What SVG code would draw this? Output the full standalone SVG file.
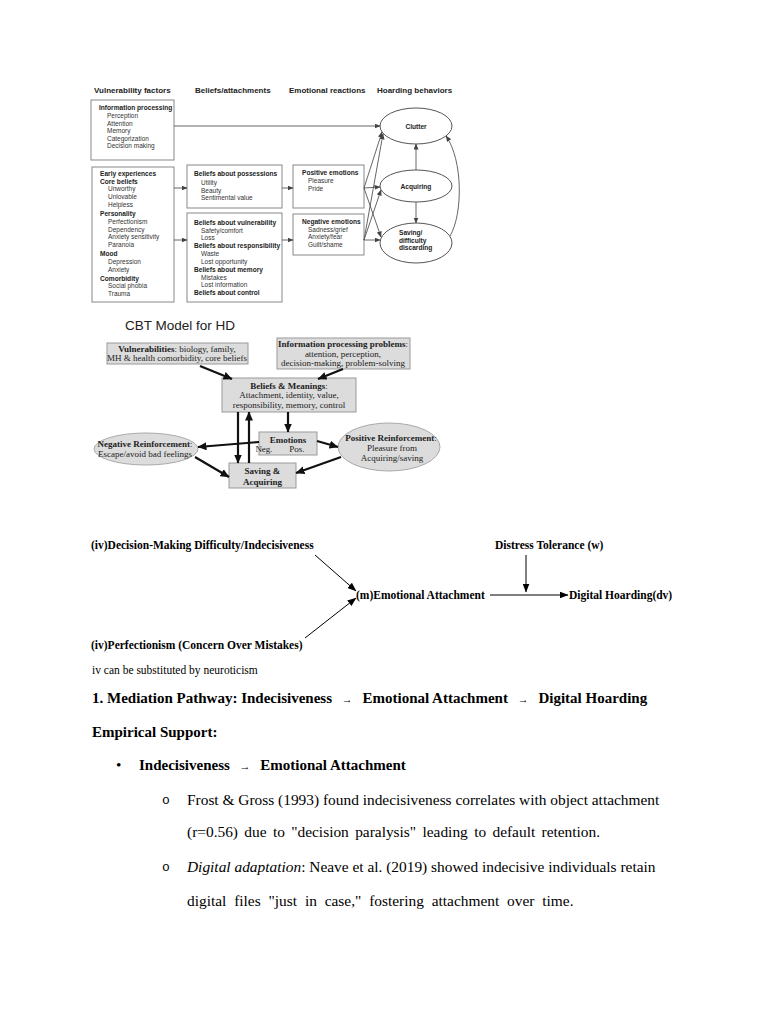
<svg xmlns="http://www.w3.org/2000/svg" width="768" height="1024" viewBox="0 0 768 1024">
<defs>
<marker id="ag" markerWidth="6" markerHeight="5" refX="5.5" refY="2.5" orient="auto" markerUnits="userSpaceOnUse"><path d="M0,0 L6,2.5 L0,5 z" fill="#444"/></marker>
<marker id="ab" markerWidth="9" markerHeight="8" refX="8.5" refY="4" orient="auto" markerUnits="userSpaceOnUse"><path d="M0,0 L9,4 L0,8 z" fill="#111"/></marker>
<marker id="at" markerWidth="9" markerHeight="7" refX="8.5" refY="3.5" orient="auto" markerUnits="userSpaceOnUse"><path d="M0,0 L9,3.5 L0,7 z" fill="#000"/></marker>
</defs>
<style>
.hd{font-family:"Liberation Sans",Arial,sans-serif;font-weight:bold;font-size:8px;fill:#222}
.bt{font-family:"Liberation Sans",Arial,sans-serif;font-weight:bold;font-size:6.6px;fill:#222}
.it{font-family:"Liberation Sans",Arial,sans-serif;font-size:6.5px;fill:#333}
.bx{fill:#fff;stroke:#888;stroke-width:1}
.el{fill:#fff;stroke:#555;stroke-width:1}
.gl{fill:none;stroke:#555;stroke-width:0.9}
.cb{fill:#dcdcdc;stroke:#999;stroke-width:1}
.ce{fill:#dcdcdc;stroke:#aaa;stroke-width:1}
.st{font-family:"Liberation Serif","Times New Roman",serif;font-size:9px;fill:#222;text-anchor:middle}
.stb{font-weight:bold}
.bl{fill:none;stroke:#111;stroke-width:2.2}
.dt{font-family:"Liberation Serif","Times New Roman",serif;font-weight:bold;font-size:11.5px;fill:#000}
.dl{fill:none;stroke:#000;stroke-width:1}
.ph{font-family:"Liberation Serif","Times New Roman",serif;font-weight:bold;font-size:15px;fill:#000}
.pt{font-family:"Liberation Serif","Times New Roman",serif;font-size:15.4px;fill:#000}
</style>
<rect width="768" height="1024" fill="#fff"/>

<!-- Top diagram -->
<g id="headers">
<text class="hd" x="94" y="93">Vulnerability factors</text>
<text class="hd" x="195" y="93">Beliefs/attachments</text>
<text class="hd" x="289" y="93">Emotional reactions</text>
<text class="hd" x="377" y="93">Hoarding behaviors</text>
</g>
<g id="info-processing">
<rect class="bx" x="91" y="100" width="83" height="60"/>
<text class="bt" x="99" y="110">Information processing</text>
<text class="it" x="107" y="118">Perception</text>
<text class="it" x="107" y="125.5">Attention</text>
<text class="it" x="107" y="133">Memory</text>
<text class="it" x="107" y="140.5">Categorization</text>
<text class="it" x="107" y="148">Decision making</text>
</g>
<g id="early-experiences">
<rect class="bx" x="92" y="167" width="82" height="135"/>
<text class="bt" x="100" y="176">Early experiences</text>
<text class="bt" x="100" y="183.5">Core beliefs</text>
<text class="it" x="108" y="191">Unworthy</text>
<text class="it" x="108" y="199">Unlovable</text>
<text class="it" x="108" y="207">Helpless</text>
<text class="bt" x="100" y="216">Personality</text>
<text class="it" x="108" y="224">Perfectionism</text>
<text class="it" x="108" y="231.5">Dependency</text>
<text class="it" x="108" y="239">Anxiety sensitivity</text>
<text class="it" x="108" y="246.5">Paranoia</text>
<text class="bt" x="100" y="256">Mood</text>
<text class="it" x="108" y="264">Depression</text>
<text class="it" x="108" y="271.5">Anxiety</text>
<text class="bt" x="100" y="280.5">Comorbidity</text>
<text class="it" x="108" y="288">Social phobia</text>
<text class="it" x="108" y="295.5">Trauma</text>
</g>
<g id="beliefs-possessions">
<rect class="bx" x="187" y="165" width="95" height="43"/>
<text class="bt" x="194" y="176">Beliefs about possessions</text>
<text class="it" x="201" y="185">Utility</text>
<text class="it" x="201" y="192.5">Beauty</text>
<text class="it" x="201" y="200">Sentimental value</text>
</g>
<g id="beliefs-vulnerability">
<rect class="bx" x="187" y="213" width="95" height="89"/>
<text class="bt" x="194" y="225">Beliefs about vulnerability</text>
<text class="it" x="201" y="232.5">Safety/comfort</text>
<text class="it" x="201" y="240">Loss</text>
<text class="bt" x="194" y="248">Beliefs about responsibility</text>
<text class="it" x="201" y="255.5">Waste</text>
<text class="it" x="201" y="263.5">Lost opportunity</text>
<text class="bt" x="194" y="271.5">Beliefs about memory</text>
<text class="it" x="201" y="279.5">Mistakes</text>
<text class="it" x="201" y="287">Lost information</text>
<text class="bt" x="194" y="295">Beliefs about control</text>
</g>
<g id="positive-emotions">
<rect class="bx" x="293" y="165" width="71" height="43"/>
<text class="bt" x="302" y="175">Positive emotions</text>
<text class="it" x="308" y="183">Pleasure</text>
<text class="it" x="308" y="190.5">Pride</text>
</g>
<g id="negative-emotions">
<rect class="bx" x="293" y="214" width="71" height="41"/>
<text class="bt" x="302" y="224">Negative emotions</text>
<text class="it" x="308" y="231.5">Sadness/grief</text>
<text class="it" x="308" y="239">Anxiety/fear</text>
<text class="it" x="308" y="246.5">Guilt/shame</text>
</g>
<g id="clutter">
<ellipse class="el" cx="416" cy="126" rx="36" ry="18"/>
<text class="bt" x="416" y="128.5" text-anchor="middle">Clutter</text>
</g>
<g id="acquiring">
<ellipse class="el" cx="416" cy="186" rx="36" ry="16"/>
<text class="bt" x="416" y="188.5" text-anchor="middle">Acquiring</text>
</g>
<g id="saving">
<ellipse class="el" cx="416" cy="243" rx="36" ry="20"/>
<text class="bt" x="399" y="235">Saving/</text>
<text class="bt" x="399" y="242.5">difficulty</text>
<text class="bt" x="399" y="250">discarding</text>
</g>
<g id="top-connectors">
<line class="gl" x1="174" y1="126" x2="380" y2="126" marker-end="url(#ag)"/>
<line class="gl" x1="174" y1="188" x2="187" y2="188" marker-end="url(#ag)"/>
<line class="gl" x1="174" y1="240" x2="187" y2="240" marker-end="url(#ag)"/>
<line class="gl" x1="282" y1="188" x2="293" y2="188" marker-end="url(#ag)"/>
<line class="gl" x1="282" y1="240" x2="293" y2="240" marker-end="url(#ag)"/>
<line class="gl" x1="364" y1="188" x2="382" y2="132" marker-end="url(#ag)"/>
<line class="gl" x1="364" y1="188" x2="380" y2="187" marker-end="url(#ag)"/>
<line class="gl" x1="364" y1="188" x2="381" y2="237" marker-end="url(#ag)"/>
<line class="gl" x1="364" y1="240" x2="383" y2="134" marker-end="url(#ag)"/>
<line class="gl" x1="364" y1="240" x2="381" y2="190" marker-end="url(#ag)"/>
<line class="gl" x1="364" y1="240" x2="380" y2="240" marker-end="url(#ag)"/>
<line class="gl" x1="416" y1="170" x2="416" y2="144" marker-end="url(#ag)"/>
<line class="gl" x1="416" y1="202" x2="416" y2="223" marker-end="url(#ag)"/>
<path class="gl" d="M450,236 C463,214 463,160 446,136" marker-end="url(#ag)"/>
</g>

<!-- CBT Model -->
<text x="125" y="330" font-family="'Liberation Sans',Arial,sans-serif" font-size="13.5" fill="#222">CBT Model for HD</text>
<g id="vulnerabilities">
<rect class="cb" x="107" y="343" width="141" height="21"/>
<text class="st" x="177" y="351.5"><tspan class="stb">Vulnerabilities</tspan>: biology, family,</text>
<text class="st" x="177" y="361">MH &amp; health comorbidity, core beliefs</text>
</g>
<g id="info-problems">
<rect class="cb" x="277" y="338" width="133" height="31"/>
<text class="st" x="343" y="347"><tspan class="stb">Information processing problems</tspan>:</text>
<text class="st" x="343" y="356.5">attention, perception,</text>
<text class="st" x="343" y="366">decision-making, problem-solving</text>
</g>
<g id="beliefs-meanings">
<rect class="cb" x="222" y="378" width="134" height="34"/>
<text class="st" x="289" y="388.5"><tspan class="stb">Beliefs &amp; Meanings</tspan>:</text>
<text class="st" x="289" y="398">Attachment, identity, value,</text>
<text class="st" x="289" y="407.5">responsibility, memory, control</text>
</g>
<g id="emotions">
<rect class="cb" x="259" y="432" width="58" height="23"/>
<text class="st stb" x="288" y="443">Emotions</text>
<text class="st" x="264" y="452" text-anchor="start">Neg.</text>
<text class="st" x="297" y="452" text-anchor="start">Pos.</text>
</g>
<g id="saving-acquiring">
<rect class="cb" x="229" y="463" width="67" height="25"/>
<text class="st stb" x="262.5" y="474">Saving &amp;</text>
<text class="st stb" x="262.5" y="484.5">Acquiring</text>
</g>
<g id="negative-reinforcement">
<ellipse class="ce" cx="146" cy="449" rx="52" ry="16"/>
<text class="st" x="145" y="447"><tspan class="stb">Negative Reinforcement</tspan>:</text>
<text class="st" x="145" y="457">Escape/avoid bad feelings</text>
</g>
<g id="positive-reinforcement">
<ellipse class="ce" cx="389" cy="447" rx="51" ry="24"/>
<text class="st" x="391" y="441"><tspan class="stb">Positive Reinforcement</tspan>:</text>
<text class="st" x="392" y="451">Pleasure from</text>
<text class="st" x="392" y="461">Acquiring/saving</text>
</g>
<g id="cbt-connectors">
<line class="bl" x1="200" y1="366" x2="232" y2="379" marker-end="url(#ab)"/>
<line class="bl" x1="343" y1="369" x2="318" y2="379" marker-end="url(#ab)"/>
<line class="bl" x1="288" y1="412" x2="288" y2="432" marker-end="url(#ab)"/>
<line class="bl" x1="238" y1="412" x2="238" y2="463" marker-end="url(#ab)"/>
<line class="bl" x1="249" y1="463" x2="249" y2="412" marker-end="url(#ab)"/>
<line class="bl" x1="259" y1="442" x2="198" y2="447" marker-end="url(#ab)"/>
<line class="bl" x1="195" y1="457" x2="229" y2="477" marker-end="url(#ab)"/>
<line class="bl" x1="317" y1="441" x2="338" y2="447" marker-end="url(#ab)"/>
<line class="bl" x1="341" y1="457" x2="296" y2="473" marker-end="url(#ab)"/>
</g>

<!-- Moderated mediation diagram -->
<g id="iv-indecisiveness"><text class="dt" x="91" y="549">(iv)Decision-Making Difficulty/Indecisiveness</text></g>
<g id="w-distress"><text class="dt" x="495" y="549">Distress Tolerance (w)</text></g>
<g id="m-attachment"><text class="dt" x="356" y="599">(m)Emotional Attachment</text></g>
<g id="dv-hoarding"><text class="dt" x="569" y="599">Digital Hoarding(dv)</text></g>
<g id="iv-perfectionism"><text class="dt" x="91" y="649">(iv)Perfectionism (Concern Over Mistakes)</text></g>
<g id="model-connectors">
<line class="dl" x1="315" y1="555" x2="356" y2="591" marker-end="url(#at)"/>
<line class="dl" x1="305" y1="638" x2="356" y2="598" marker-end="url(#at)"/>
<line class="dl" x1="526" y1="555" x2="526" y2="592" marker-end="url(#at)"/>
<line class="dl" x1="490" y1="595" x2="568" y2="595" marker-end="url(#at)"/>
</g>

<!-- Body text -->
<text x="92" y="674" font-family="'Liberation Serif','Times New Roman',serif" font-size="11.5">iv can be substituted by neuroticism</text>
<text class="ph" x="92" y="703">1. Mediation Pathway: Indecisiveness <tspan font-size="11" dx="6">→</tspan><tspan dx="6"> Emotional Attachment </tspan><tspan font-size="11" dx="6">→</tspan><tspan dx="6"> Digital Hoarding</tspan></text>
<text class="ph" x="92" y="737">Empirical Support:</text>
<text class="pt" x="116" y="770">•</text>
<text class="ph" x="139" y="770">Indecisiveness <tspan font-size="11" dx="6">→</tspan><tspan dx="6"> Emotional Attachment</tspan></text>
<text x="162" y="804" font-family="'Liberation Mono','Courier New',monospace" font-size="13">o</text>
<text class="pt" x="187" y="805">Frost &amp; Gross (1993) found indecisiveness correlates with object attachment</text>
<text class="pt" x="187" y="837" word-spacing="2.5">(r=0.56) due to "decision paralysis" leading to default retention.</text>
<text x="162" y="871" font-family="'Liberation Mono','Courier New',monospace" font-size="13">o</text>
<text class="pt" x="187" y="872"><tspan font-style="italic">Digital adaptation</tspan>: Neave et al. (2019) showed indecisive individuals retain</text>
<text class="pt" x="187" y="906" word-spacing="4">digital files "just in case," fostering attachment over time.</text>
</svg>
